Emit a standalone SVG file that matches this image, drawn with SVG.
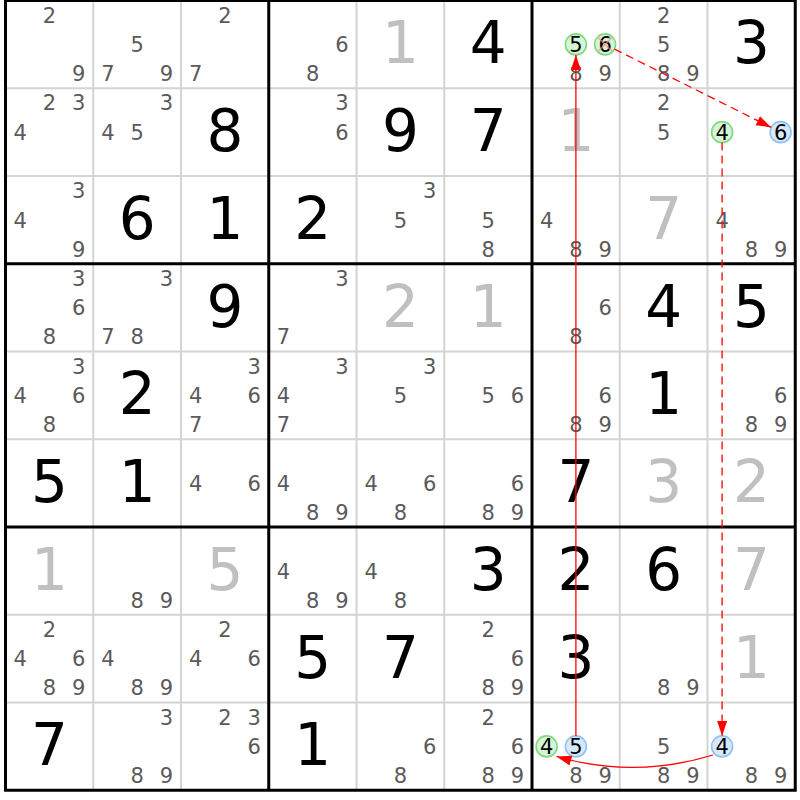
<svg xmlns="http://www.w3.org/2000/svg" width="800" height="800" viewBox="0 0 800 800">
<defs>
<style>
text{font-family:"DejaVu Sans",Verdana,sans-serif;font-size:21px;fill:#5a5a5a;text-anchor:middle}
text.g{font-size:58px;fill:#000}
text.s{fill:#c0c0c0}
text.k{fill:#000}
.hg{fill:#d6f5d6;stroke:#80d880;stroke-width:1.6}
.hb{fill:#d6e9fb;stroke:#90c2f2;stroke-width:1.6}
.thin{stroke:#d4d4d4;stroke-width:2}
.thick{stroke:#000;stroke-width:3;fill:none}
.ln{stroke:#ff0000;stroke-width:1.3;fill:none}
.dash{stroke-dasharray:8,5}
.x{stroke:#ff8080;stroke-width:1.5;opacity:0.7}
</style>
<marker id="ah" markerUnits="userSpaceOnUse" markerWidth="16" markerHeight="12" refX="15" refY="5" orient="auto">
<path d="M0,0 L15,5 L0,10 z" fill="#ff0000"/>
</marker>
</defs>
<rect x="0" y="0" width="800" height="800" fill="#fff"/>
<g id="grid">
<path class="thin" d="M93.25,0.5V790.25M181,0.5V790.25M356.5,0.5V790.25M444.25,0.5V790.25M619.75,0.5V790.25M707.5,0.5V790.25M5.5,88.25H795.25M5.5,176H795.25M5.5,351.5H795.25M5.5,439.25H795.25M5.5,614.75H795.25M5.5,702.5H795.25"/>
<path class="thick" d="M268.75,0.5V790.25M532,0.5V790.25M5.5,263.75H795.25M5.5,527H795.25"/>
<rect class="thick" x="5.5" y="0.5" width="789.75" height="789.75"/>
</g>
<g id="cells">
<!-- row 0 -->
<g id="r0c0" transform="translate(5.5,0.5)"><text x="43.9" y="22.2">2</text><text x="73.1" y="80.7">9</text></g>
<g id="r0c1" transform="translate(93.25,0.5)"><text x="43.9" y="51.5">5</text><text x="14.6" y="80.7">7</text><text x="73.1" y="80.7">9</text></g>
<g id="r0c2" transform="translate(181,0.5)"><text x="43.9" y="22.2">2</text><text x="14.6" y="80.7">7</text></g>
<g id="r0c3" transform="translate(268.75,0.5)"><text x="73.1" y="51.5">6</text><text x="43.9" y="80.7">8</text></g>
<g id="r0c4" transform="translate(356.5,0.5)"><text class="g s" x="43.9" y="62.9">1</text></g>
<g id="r0c5" transform="translate(444.25,0.5)"><text class="g" x="43.9" y="62.9">4</text></g>
<g id="r0c6" transform="translate(532,0.5)"><text x="43.9" y="80.7">8</text><text x="73.1" y="80.7">9</text>
<circle class="hg" cx="43.9" cy="43.9" r="10.5"/><text class="k" x="43.9" y="51.5">5</text>
<circle class="hg" cx="73.1" cy="43.9" r="10.5"/><text class="k" x="73.1" y="51.5">6</text>
<path class="x" d="M66.5,37.3L79.7,50.5M79.7,37.3L66.5,50.5"/></g>
<g id="r0c7" transform="translate(619.75,0.5)"><text x="43.9" y="22.2">2</text><text x="43.9" y="51.5">5</text><text x="43.9" y="80.7">8</text><text x="73.1" y="80.7">9</text></g>
<g id="r0c8" transform="translate(707.5,0.5)"><text class="g" x="43.9" y="62.9">3</text></g>
<!-- row 1 -->
<g id="r1c0" transform="translate(5.5,88.25)"><text x="43.9" y="22.2">2</text><text x="73.1" y="22.2">3</text><text x="14.6" y="51.5">4</text></g>
<g id="r1c1" transform="translate(93.25,88.25)"><text x="73.1" y="22.2">3</text><text x="14.6" y="51.5">4</text><text x="43.9" y="51.5">5</text></g>
<g id="r1c2" transform="translate(181,88.25)"><text class="g" x="43.9" y="62.9">8</text></g>
<g id="r1c3" transform="translate(268.75,88.25)"><text x="73.1" y="22.2">3</text><text x="73.1" y="51.5">6</text></g>
<g id="r1c4" transform="translate(356.5,88.25)"><text class="g" x="43.9" y="62.9">9</text></g>
<g id="r1c5" transform="translate(444.25,88.25)"><text class="g" x="43.9" y="62.9">7</text></g>
<g id="r1c6" transform="translate(532,88.25)"><text class="g s" x="43.9" y="62.9">1</text></g>
<g id="r1c7" transform="translate(619.75,88.25)"><text x="43.9" y="22.2">2</text><text x="43.9" y="51.5">5</text></g>
<g id="r1c8" transform="translate(707.5,88.25)">
<circle class="hg" cx="14.6" cy="43.9" r="10.5"/><text class="k" x="14.6" y="51.5">4</text>
<circle class="hb" cx="73.1" cy="43.9" r="10.5"/><text class="k" x="73.1" y="51.5">6</text></g>
<!-- row 2 -->
<g id="r2c0" transform="translate(5.5,176)"><text x="73.1" y="22.2">3</text><text x="14.6" y="51.5">4</text><text x="73.1" y="80.7">9</text></g>
<g id="r2c1" transform="translate(93.25,176)"><text class="g" x="43.9" y="62.9">6</text></g>
<g id="r2c2" transform="translate(181,176)"><text class="g" x="43.9" y="62.9">1</text></g>
<g id="r2c3" transform="translate(268.75,176)"><text class="g" x="43.9" y="62.9">2</text></g>
<g id="r2c4" transform="translate(356.5,176)"><text x="73.1" y="22.2">3</text><text x="43.9" y="51.5">5</text></g>
<g id="r2c5" transform="translate(444.25,176)"><text x="43.9" y="51.5">5</text><text x="43.9" y="80.7">8</text></g>
<g id="r2c6" transform="translate(532,176)"><text x="14.6" y="51.5">4</text><text x="43.9" y="80.7">8</text><text x="73.1" y="80.7">9</text></g>
<g id="r2c7" transform="translate(619.75,176)"><text class="g s" x="43.9" y="62.9">7</text></g>
<g id="r2c8" transform="translate(707.5,176)"><text x="14.6" y="51.5">4</text><text x="43.9" y="80.7">8</text><text x="73.1" y="80.7">9</text></g>
<!-- row 3 -->
<g id="r3c0" transform="translate(5.5,263.75)"><text x="73.1" y="22.2">3</text><text x="73.1" y="51.5">6</text><text x="43.9" y="80.7">8</text></g>
<g id="r3c1" transform="translate(93.25,263.75)"><text x="73.1" y="22.2">3</text><text x="14.6" y="80.7">7</text><text x="43.9" y="80.7">8</text></g>
<g id="r3c2" transform="translate(181,263.75)"><text class="g" x="43.9" y="62.9">9</text></g>
<g id="r3c3" transform="translate(268.75,263.75)"><text x="73.1" y="22.2">3</text><text x="14.6" y="80.7">7</text></g>
<g id="r3c4" transform="translate(356.5,263.75)"><text class="g s" x="43.9" y="62.9">2</text></g>
<g id="r3c5" transform="translate(444.25,263.75)"><text class="g s" x="43.9" y="62.9">1</text></g>
<g id="r3c6" transform="translate(532,263.75)"><text x="73.1" y="51.5">6</text><text x="43.9" y="80.7">8</text></g>
<g id="r3c7" transform="translate(619.75,263.75)"><text class="g" x="43.9" y="62.9">4</text></g>
<g id="r3c8" transform="translate(707.5,263.75)"><text class="g" x="43.9" y="62.9">5</text></g>
<!-- row 4 -->
<g id="r4c0" transform="translate(5.5,351.5)"><text x="73.1" y="22.2">3</text><text x="14.6" y="51.5">4</text><text x="73.1" y="51.5">6</text><text x="43.9" y="80.7">8</text></g>
<g id="r4c1" transform="translate(93.25,351.5)"><text class="g" x="43.9" y="62.9">2</text></g>
<g id="r4c2" transform="translate(181,351.5)"><text x="73.1" y="22.2">3</text><text x="14.6" y="51.5">4</text><text x="73.1" y="51.5">6</text><text x="14.6" y="80.7">7</text></g>
<g id="r4c3" transform="translate(268.75,351.5)"><text x="73.1" y="22.2">3</text><text x="14.6" y="51.5">4</text><text x="14.6" y="80.7">7</text></g>
<g id="r4c4" transform="translate(356.5,351.5)"><text x="73.1" y="22.2">3</text><text x="43.9" y="51.5">5</text></g>
<g id="r4c5" transform="translate(444.25,351.5)"><text x="43.9" y="51.5">5</text><text x="73.1" y="51.5">6</text></g>
<g id="r4c6" transform="translate(532,351.5)"><text x="73.1" y="51.5">6</text><text x="43.9" y="80.7">8</text><text x="73.1" y="80.7">9</text></g>
<g id="r4c7" transform="translate(619.75,351.5)"><text class="g" x="43.9" y="62.9">1</text></g>
<g id="r4c8" transform="translate(707.5,351.5)"><text x="73.1" y="51.5">6</text><text x="43.9" y="80.7">8</text><text x="73.1" y="80.7">9</text></g>
<!-- row 5 -->
<g id="r5c0" transform="translate(5.5,439.25)"><text class="g" x="43.9" y="62.9">5</text></g>
<g id="r5c1" transform="translate(93.25,439.25)"><text class="g" x="43.9" y="62.9">1</text></g>
<g id="r5c2" transform="translate(181,439.25)"><text x="14.6" y="51.5">4</text><text x="73.1" y="51.5">6</text></g>
<g id="r5c3" transform="translate(268.75,439.25)"><text x="14.6" y="51.5">4</text><text x="43.9" y="80.7">8</text><text x="73.1" y="80.7">9</text></g>
<g id="r5c4" transform="translate(356.5,439.25)"><text x="14.6" y="51.5">4</text><text x="73.1" y="51.5">6</text><text x="43.9" y="80.7">8</text></g>
<g id="r5c5" transform="translate(444.25,439.25)"><text x="73.1" y="51.5">6</text><text x="43.9" y="80.7">8</text><text x="73.1" y="80.7">9</text></g>
<g id="r5c6" transform="translate(532,439.25)"><text class="g" x="43.9" y="62.9">7</text></g>
<g id="r5c7" transform="translate(619.75,439.25)"><text class="g s" x="43.9" y="62.9">3</text></g>
<g id="r5c8" transform="translate(707.5,439.25)"><text class="g s" x="43.9" y="62.9">2</text></g>
<!-- row 6 -->
<g id="r6c0" transform="translate(5.5,527)"><text class="g s" x="43.9" y="62.9">1</text></g>
<g id="r6c1" transform="translate(93.25,527)"><text x="43.9" y="80.7">8</text><text x="73.1" y="80.7">9</text></g>
<g id="r6c2" transform="translate(181,527)"><text class="g s" x="43.9" y="62.9">5</text></g>
<g id="r6c3" transform="translate(268.75,527)"><text x="14.6" y="51.5">4</text><text x="43.9" y="80.7">8</text><text x="73.1" y="80.7">9</text></g>
<g id="r6c4" transform="translate(356.5,527)"><text x="14.6" y="51.5">4</text><text x="43.9" y="80.7">8</text></g>
<g id="r6c5" transform="translate(444.25,527)"><text class="g" x="43.9" y="62.9">3</text></g>
<g id="r6c6" transform="translate(532,527)"><text class="g" x="43.9" y="62.9">2</text></g>
<g id="r6c7" transform="translate(619.75,527)"><text class="g" x="43.9" y="62.9">6</text></g>
<g id="r6c8" transform="translate(707.5,527)"><text class="g s" x="43.9" y="62.9">7</text></g>
<!-- row 7 -->
<g id="r7c0" transform="translate(5.5,614.75)"><text x="43.9" y="22.2">2</text><text x="14.6" y="51.5">4</text><text x="73.1" y="51.5">6</text><text x="43.9" y="80.7">8</text><text x="73.1" y="80.7">9</text></g>
<g id="r7c1" transform="translate(93.25,614.75)"><text x="14.6" y="51.5">4</text><text x="43.9" y="80.7">8</text><text x="73.1" y="80.7">9</text></g>
<g id="r7c2" transform="translate(181,614.75)"><text x="43.9" y="22.2">2</text><text x="14.6" y="51.5">4</text><text x="73.1" y="51.5">6</text></g>
<g id="r7c3" transform="translate(268.75,614.75)"><text class="g" x="43.9" y="62.9">5</text></g>
<g id="r7c4" transform="translate(356.5,614.75)"><text class="g" x="43.9" y="62.9">7</text></g>
<g id="r7c5" transform="translate(444.25,614.75)"><text x="43.9" y="22.2">2</text><text x="73.1" y="51.5">6</text><text x="43.9" y="80.7">8</text><text x="73.1" y="80.7">9</text></g>
<g id="r7c6" transform="translate(532,614.75)"><text class="g" x="43.9" y="62.9">3</text></g>
<g id="r7c7" transform="translate(619.75,614.75)"><text x="43.9" y="80.7">8</text><text x="73.1" y="80.7">9</text></g>
<g id="r7c8" transform="translate(707.5,614.75)"><text class="g s" x="43.9" y="62.9">1</text></g>
<!-- row 8 -->
<g id="r8c0" transform="translate(5.5,702.5)"><text class="g" x="43.9" y="62.9">7</text></g>
<g id="r8c1" transform="translate(93.25,702.5)"><text x="73.1" y="22.2">3</text><text x="43.9" y="80.7">8</text><text x="73.1" y="80.7">9</text></g>
<g id="r8c2" transform="translate(181,702.5)"><text x="43.9" y="22.2">2</text><text x="73.1" y="22.2">3</text><text x="73.1" y="51.5">6</text></g>
<g id="r8c3" transform="translate(268.75,702.5)"><text class="g" x="43.9" y="62.9">1</text></g>
<g id="r8c4" transform="translate(356.5,702.5)"><text x="73.1" y="51.5">6</text><text x="43.9" y="80.7">8</text></g>
<g id="r8c5" transform="translate(444.25,702.5)"><text x="43.9" y="22.2">2</text><text x="73.1" y="51.5">6</text><text x="43.9" y="80.7">8</text><text x="73.1" y="80.7">9</text></g>
<g id="r8c6" transform="translate(532,702.5)"><text x="43.9" y="80.7">8</text><text x="73.1" y="80.7">9</text>
<circle class="hg" cx="14.6" cy="43.9" r="10.5"/><text class="k" x="14.6" y="51.5">4</text>
<circle class="hb" cx="43.9" cy="43.9" r="10.5"/><text class="k" x="43.9" y="51.5">5</text></g>
<g id="r8c7" transform="translate(619.75,702.5)"><text x="43.9" y="51.5">5</text><text x="43.9" y="80.7">8</text><text x="73.1" y="80.7">9</text></g>
<g id="r8c8" transform="translate(707.5,702.5)"><text x="43.9" y="80.7">8</text><text x="73.1" y="80.7">9</text>
<circle class="hb" cx="14.6" cy="43.9" r="10.5"/><text class="k" x="14.6" y="51.5">4</text></g>
</g>
<g id="connectors">
<path class="ln" d="M575.9,735.9V55" marker-end="url(#ah)"/>
<path class="ln dash" d="M614.5,49.1L771.2,127.4" marker-end="url(#ah)"/>
<path class="ln dash" d="M722.1,142.6V735.9" marker-end="url(#ah)"/>
<path class="ln" d="M713,755 Q635,779 556.5,756.5" marker-end="url(#ah)"/>
</g>
</svg>
